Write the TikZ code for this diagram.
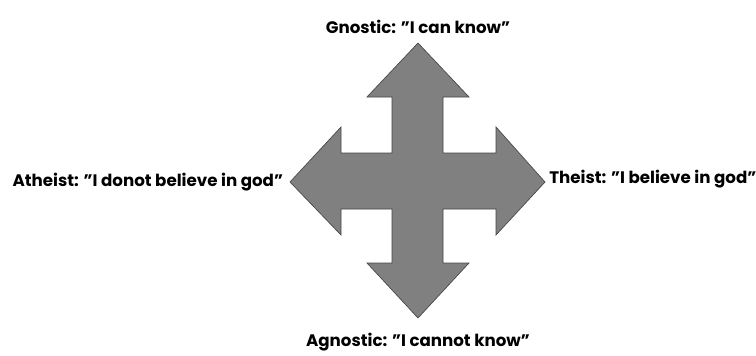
\documentclass[tikz,border=0pt]{standalone}
\usepackage{fontspec}
\setmainfont{Poppins}
\usetikzlibrary{positioning}

\tikzset{
  lbl/.style={font=\bfseries\fontsize{12.5}{14}\selectfont, inner sep=0pt},
  cross/.style={fill={rgb,255:red,128;green,128;blue,128}, draw={rgb,255:red,70;green,70;blue,70}, line width=0.5pt, line join=miter}
}

\begin{document}
\begin{tikzpicture}[x=0.75pt, y=-0.75pt, node distance=4pt]
\useasboundingbox (0,0) rectangle (756,355);

% four way arrow
\draw[cross] (418,43) -- (469,97) -- (443,97) -- (443,153) -- (496,153) -- (496,127)
  -- (545,182) -- (496,235) -- (496,209) -- (443,209) -- (443,263) -- (469,263)
  -- (418,318) -- (367,263) -- (392,263) -- (392,209) -- (341,209) -- (341,235)
  -- (290,182) -- (341,127) -- (341,153) -- (392,153) -- (392,97) -- (367,97) -- cycle;

\coordinate (up) at (418,43);
\coordinate (down) at (418,318);
\coordinate (left) at (290,182);
\coordinate (right) at (545,182);

\node[lbl, above=7pt of up] (gnostic) {Gnostic: "I can know"};
\node[lbl, below=11pt of down] (agnostic) {Agnostic: "I cannot know"};
\node[lbl, left=5pt of left] (atheist) {Atheist: "I donot believe in god"};
\node[lbl, right=3pt of right, yshift=2pt] (theist) {Theist: "I believe in god"};
\end{tikzpicture}
\end{document}
